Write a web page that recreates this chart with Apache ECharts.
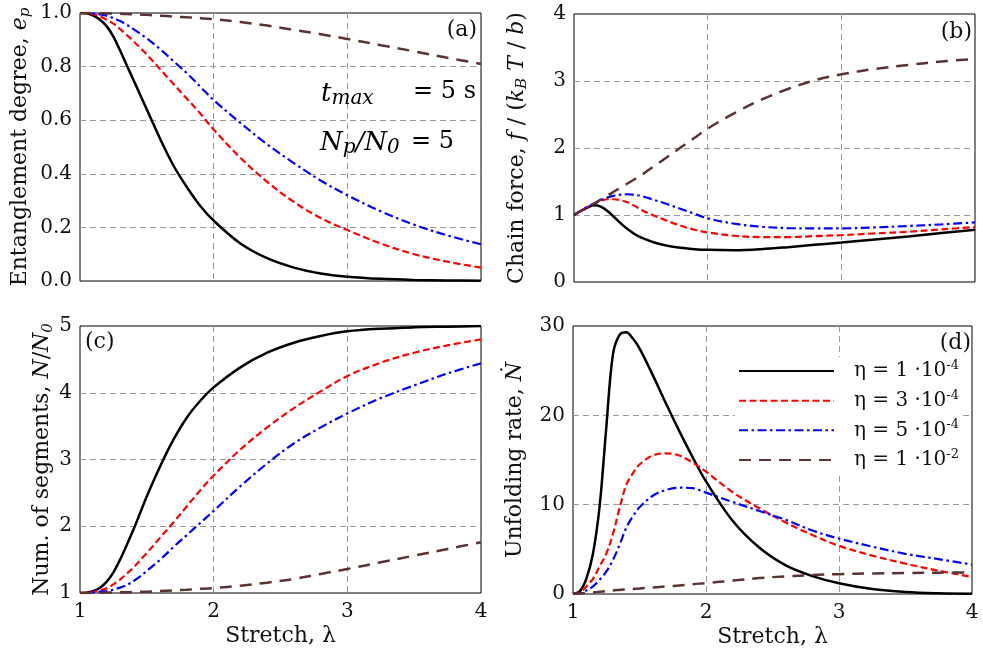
<!DOCTYPE html>
<html><head><meta charset="utf-8">
<script src="https://cdn.jsdelivr.net/npm/echarts@6/dist/echarts.min.js"></script>
<style>html,body{margin:0;padding:0;background:#fff}#c{width:983px;height:653px}</style>
</head><body><div id="c"></div>
<script>
// ---- data ----
const lambda = [1.0,1.05,1.1,1.15,1.2,1.25,1.3,1.35,1.4,1.45,1.5,1.6,1.7,1.8,1.9,2.0,2.2,2.4,2.6,2.8,3.0,3.25,3.5,3.75,4.0];
// (a) entanglement degree e_p
const epBlack = [1.0,0.999,0.99,0.975,0.95,0.912,0.86,0.805,0.75,0.695,0.64,0.53,0.43,0.35,0.28,0.225,0.14,0.085,0.05,0.028,0.016,0.008,0.004,0.002,0.001];
const epRed   = [1.0,0.999,0.995,0.987,0.975,0.96,0.94,0.918,0.895,0.87,0.845,0.79,0.735,0.68,0.625,0.565,0.46,0.37,0.295,0.235,0.19,0.14,0.1,0.072,0.05];
const epBlue  = [1.0,1.0,0.998,0.995,0.99,0.981,0.97,0.956,0.94,0.923,0.905,0.865,0.82,0.775,0.725,0.675,0.59,0.51,0.44,0.375,0.32,0.26,0.21,0.17,0.137];
const epBrown = [1.0,1.0,0.9995,0.999,0.9985,0.998,0.997,0.996,0.995,0.994,0.993,0.99,0.987,0.984,0.981,0.977,0.966,0.953,0.937,0.921,0.903,0.88,0.857,0.833,0.81];
// (b) chain force
const fBlack = [1.0,1.06,1.11,1.145,1.125,1.06,0.97,0.875,0.79,0.72,0.665,0.59,0.54,0.51,0.49,0.48,0.475,0.49,0.52,0.555,0.59,0.635,0.68,0.73,0.78];
const fRed   = [1.0,1.06,1.12,1.17,1.21,1.235,1.235,1.22,1.19,1.14,1.08,0.99,0.91,0.84,0.78,0.74,0.69,0.67,0.67,0.685,0.70,0.725,0.75,0.785,0.82];
const fBlue  = [1.0,1.06,1.12,1.17,1.22,1.26,1.29,1.305,1.31,1.30,1.285,1.225,1.16,1.09,1.02,0.95,0.87,0.825,0.805,0.80,0.80,0.815,0.835,0.86,0.89];
const fBrown = [1.0,1.06,1.11,1.17,1.23,1.29,1.35,1.41,1.47,1.53,1.59,1.73,1.87,2.01,2.15,2.29,2.52,2.72,2.88,3.01,3.10,3.18,3.24,3.29,3.33];
// (c) number of segments N/N0
const nBlack = [1.0,1.005,1.03,1.08,1.17,1.31,1.5,1.72,1.95,2.2,2.45,2.9,3.3,3.63,3.88,4.08,4.38,4.6,4.75,4.85,4.92,4.96,4.98,4.99,5.0];
const nRed   = [1.0,1.005,1.02,1.04,1.07,1.13,1.2,1.29,1.38,1.49,1.6,1.83,2.06,2.3,2.54,2.76,3.15,3.48,3.77,4.02,4.25,4.45,4.6,4.71,4.8];
const nBlue  = [1.0,1.0,1.01,1.02,1.03,1.05,1.08,1.12,1.18,1.25,1.33,1.5,1.69,1.87,2.05,2.23,2.6,2.94,3.24,3.48,3.69,3.92,4.11,4.29,4.44];
const nBrown = [1.0,1.0,1.002,1.004,1.006,1.008,1.01,1.012,1.014,1.017,1.02,1.03,1.04,1.05,1.062,1.075,1.11,1.155,1.21,1.285,1.36,1.46,1.56,1.66,1.76];
// (d) unfolding rate
const rBlack = [0,0.3,1.7,4.5,9.8,18.6,26.8,29.0,29.3,28.6,27.5,24.5,21.3,18.2,15.3,12.6,8.2,5.2,3.2,2.0,1.2,0.55,0.22,0.08,0.03];
const rRed   = [0,0.2,0.85,1.7,3.1,4.5,6.7,9.6,12.2,13.5,14.5,15.5,15.75,15.5,14.7,13.7,11.4,9.6,8.0,6.6,5.4,4.3,3.4,2.6,1.9];
const rBlue  = [0,0.1,0.4,0.85,1.6,2.5,3.8,5.5,7.4,8.7,9.7,11.0,11.65,11.9,11.85,11.35,10.3,9.3,8.3,7.1,6.2,5.3,4.5,3.9,3.3];
const rBrown = [0,0.05,0.1,0.17,0.25,0.32,0.4,0.46,0.52,0.57,0.62,0.73,0.84,0.95,1.1,1.22,1.5,1.78,1.98,2.12,2.22,2.3,2.35,2.39,2.42];

const seriesNames = ['eta1e-4','eta3e-4','eta5e-4','eta1e-2'];
const legendCoef = ['1','3','5','1'];
const legendExp = ['-4','-4','-4','-2'];

const xTicks = [1,2,3,4];
const yRanges = [
  {min:0, max:1, interval:0.2, dec:1},
  {min:0, max:4, interval:1, dec:0},
  {min:1, max:5, interval:1, dec:0},
  {min:0, max:30, interval:10, dec:0}
];

const panelData = [
  [epBlack, epRed, epBlue, epBrown],
  [fBlack, fRed, fBlue, fBrown],
  [nBlack, nRed, nBlue, nBrown],
  [rBlack, rRed, rBlue, rBrown]
];

// ---- styles ----
const FONT = "'DejaVu Serif', serif";
const TXT = '#111';
const lineStyles = [
  {color:'#000000', type:'solid', width:2.5},
  {color:'#ff0000', type:[7,3.5], width:2.2},
  {color:'#0000ff', type:[9,3.5,2.5,3.5], width:2.2},
  {color:'#5b3333', type:[12,8], width:2.5}
];

const grids = [
  {left:80, top:13, width:401, height:268},
  {left:574, top:14, width:401, height:268},
  {left:80, top:326, width:401, height:267},
  {left:573, top:326, width:399, height:268}
].map(g => Object.assign({show:true, borderColor:'#000', borderWidth:1, backgroundColor:'transparent'}, g));

function rich(sz) {
  return {
    it: {fontFamily:FONT, fontStyle:'italic', fontSize:sz, color:TXT, lineHeight:26},
    sub: {fontFamily:FONT, fontStyle:'italic', fontSize:15, color:TXT, lineHeight:10, verticalAlign:'bottom'}
  };
}

const yNames = [
  'Entanglement degree, {it|e}{sub|p}',
  'Chain force, {it|f} / ({it|k}{sub|B}{it| T} / {it|b})',
  'Num. of segments, {it|N}/{it|N}{sub|0}',
  'Unfolding rate, {it|\u1E44}'
];
const yNameGaps = [47, 44, 24, 45];

const splitLine = {show:true, showMinLine:false, showMaxLine:false, lineStyle:{color:'#999', type:[6,4], width:1}};

const xAxes = grids.map((g, i) => ({
  gridIndex:i, type:'value', min:xTicks[0], max:xTicks[xTicks.length-1], interval:1,
  axisLine:{show:false}, axisTick:{show:false},
  axisLabel:{show:i>=2, margin:9, fontSize:20, fontFamily:FONT, color:TXT},
  splitLine:splitLine,
  name: i>=2 ? 'Stretch, \u03BB' : '', nameLocation:'middle', nameGap:29,
  nameTextStyle:{fontSize:22, fontFamily:FONT, color:TXT, lineHeight:26}
}));

const yAxes = grids.map((g, i) => ({
  gridIndex:i, type:'value', min:yRanges[i].min, max:yRanges[i].max, interval:yRanges[i].interval,
  axisLine:{show:false}, axisTick:{show:false},
  axisLabel:{margin:8, fontSize:20, fontFamily:FONT, color:TXT,
    formatter: v => v.toFixed(yRanges[i].dec)},
  splitLine:splitLine,
  name: yNames[i], nameLocation:'middle', nameGap:yNameGaps[i], nameRotate:90,
  nameTextStyle:{fontSize:22, fontFamily:FONT, color:TXT, lineHeight:26, rich:rich(22)}
}));

const series = [];
panelData.forEach((arrs, p) => {
  arrs.forEach((arr, k) => {
    series.push({
      type:'line', name:seriesNames[k], xAxisIndex:p, yAxisIndex:p,
      data: lambda.map((x, j) => [x, arr[j]]),
      smooth:0.35, symbol:'none', showSymbol:false, animation:false,
      lineStyle:lineStyles[k], itemStyle:{color:lineStyles[k].color},
      z: 2 + k
    });
  });
});

const panelLabels = [
  {t:'(a)', x:477, y:30, a:'right'},
  {t:'(b)', x:972, y:32, a:'right'},
  {t:'(c)', x:85, y:342, a:'left'},
  {t:'(d)', x:971, y:343, a:'right'}
];

const graphic = panelLabels.map(l => ({
  type:'text', x:l.x, y:l.y, z:100,
  style:{text:l.t, fontFamily:FONT, fontSize:22, fill:TXT, align:l.a, verticalAlign:'middle'}
}));

const annRich = {
  it: {fontFamily:FONT, fontStyle:'italic', fontSize:26, lineHeight:30, color:TXT},
  sub: {fontFamily:FONT, fontStyle:'italic', fontSize:20, lineHeight:14, color:TXT, verticalAlign:'bottom'},
  rm: {fontFamily:FONT, fontSize:24, lineHeight:30, color:TXT}
};
graphic.push(
  {type:'text', x:321, y:94, z:100, style:{text:'{it|t}{sub|max}', rich:annRich, verticalAlign:'middle', align:'left'}},
  {type:'text', x:413, y:92, z:100, style:{text:'{rm|= 5 s}', rich:annRich, verticalAlign:'middle', align:'left'}},
  {type:'text', x:320, y:143, z:100, style:{text:'{it|N}{sub|p}{it|/N}{sub|0}', rich:annRich, verticalAlign:'middle', align:'left'}},
  {type:'text', x:411, y:142, z:100, style:{text:'{rm|= 5}', rich:annRich, verticalAlign:'middle', align:'left'}}
);

const option = {
  animation:false,
  backgroundColor:'#fff',
  grid:grids, xAxis:xAxes, yAxis:yAxes, series:series, graphic:graphic,
  legend:{
    data:seriesNames, orient:'vertical', left:735, top:357,
    itemWidth:95, itemHeight:24, itemGap:7.67, padding:[2,3,3,3],
    backgroundColor:'#fff', selectedMode:false,
    itemStyle:{opacity:0, borderWidth:0},
    formatter: name => {
      const k = seriesNames.indexOf(name);
      return '{n|\u03B7 = ' + legendCoef[k] + ' \u00B710}{sup|' + legendExp[k] + '}';
    },
    textStyle:{fontFamily:FONT, fontSize:20, color:TXT, padding:[0,0,0,15],
      rich:{
        n:{fontFamily:FONT, fontSize:20, color:TXT, lineHeight:24},
        sup:{fontFamily:FONT, fontSize:13, color:TXT, lineHeight:12, verticalAlign:'top'}
      }}
  }
};

const chart = echarts.init(document.getElementById('c'), null, {renderer:'canvas'});
chart.setOption(option);
</script></body></html>
